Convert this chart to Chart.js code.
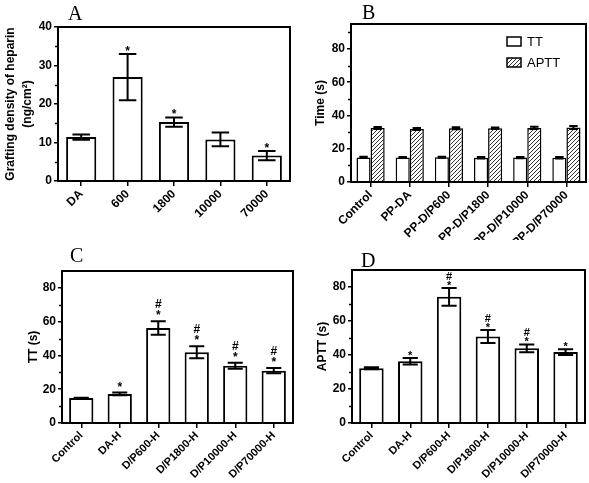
<!DOCTYPE html>
<html lang="en">
<head>
<meta charset="UTF-8">
<title>Heparin grafting density and clotting times</title>
<script src="https://cdn.jsdelivr.net/npm/chart.js"></script>
<style>
    body { margin: 0; background: #fff; width: 589px; height: 483px; position: relative; overflow: hidden; }
    .panel { position: absolute; }
    .letter { position: absolute; font-family: "Liberation Serif", "Times New Roman", serif; font-size: 20px; color: #000; line-height: 20px; }
</style>
</head>
<body>

<div class="panel" style="left:0;top:0;width:295px;height:240px"><canvas id="chartA"></canvas></div>
<div class="panel" style="left:295px;top:0;width:294px;height:240px"><canvas id="chartB"></canvas></div>
<div class="panel" style="left:0;top:240px;width:295px;height:243px"><canvas id="chartC"></canvas></div>
<div class="panel" style="left:295px;top:240px;width:294px;height:243px"><canvas id="chartD"></canvas></div>

<div class="letter" style="left:68px;top:3px">A</div>
<div class="letter" style="left:362px;top:2px">B</div>
<div class="letter" style="left:70px;top:245px">C</div>
<div class="letter" style="left:361px;top:250px">D</div>

<script>
    // A: grafting density
    const labelsA = ['DA', '600', '1800', '10000', '70000'];
    const densityA = [11.4, 27.0, 15.3, 10.8, 6.6];
    const densityErrA = [0.7, 6.0, 1.2, 1.8, 1.2];
    const marksA = ['', '*', '*', '', '*'];

    // B: TT / APTT of the unheparinized surfaces
    const labelsB = ['Control', 'PP-DA', 'PP-D/P600', 'PP-D/P1800', 'PP-D/P10000', 'PP-D/P70000'];
    const ttB = [14.8, 14.8, 14.9, 14.6, 14.7, 14.6];
    const ttErrB = [0.4, 0.3, 0.3, 0.4, 0.4, 0.4];
    const apttB = [32.4, 31.8, 32.3, 32.3, 32.5, 32.7];
    const apttErrB = [0.6, 0.6, 0.6, 0.5, 0.7, 0.9];

    // C / D: heparinized surfaces
    const labelsCD = ['Control', 'DA-H', 'D/P600-H', 'D/P1800-H', 'D/P10000-H', 'D/P70000-H'];
    const ttC = [14.8, 17.2, 56.2, 41.9, 33.9, 31.0];
    const ttErrC = [0.2, 0.8, 4.0, 3.5, 1.8, 1.6];
    const marksC = ['', '*', '#*', '#*', '#*', '#*'];
    const apttD = [32.2, 36.3, 74.2, 50.9, 43.9, 41.7];
    const apttErrD = [0.6, 1.9, 5.2, 3.8, 2.3, 1.7];
    const marksD = ['', '*', '#*', '#*', '#*', '*'];

    const fontFam = '"Liberation Sans", Arial, sans-serif';

    // hatch pattern for APTT bars
    function hatch() {
        const c = document.createElement('canvas');
        c.width = 4; c.height = 4;
        const g = c.getContext('2d');
        g.fillStyle = '#fff';
        g.fillRect(0, 0, 4, 4);
        g.strokeStyle = '#333';
        g.lineWidth = 1;
        g.beginPath();
        g.moveTo(0, 4); g.lineTo(4, 0);
        g.moveTo(-1, 1); g.lineTo(1, -1);
        g.moveTo(3, 5); g.lineTo(5, 3);
        g.stroke();
        return g.createPattern(c, 'repeat');
    }

    // error bars + significance marks, frame, minor ticks
    const extras = {
        id: 'extras',
        afterDatasetsDraw(chart, args, opts) {
            const ctx = chart.ctx;
            const y = chart.scales.y;
            const a = chart.chartArea;

            chart.data.datasets.forEach(function (ds, di) {
                const meta = chart.getDatasetMeta(di);
                meta.data.forEach(function (bar, i) {
                    const v = ds.data[i], e = ds.errors[i];
                    const top = y.getPixelForValue(v + e);
                    const bot = y.getPixelForValue(v - e);
                    const cap = bar.width * (opts.cap || 0.6) / 2;
                    ctx.save();
                    ctx.strokeStyle = '#000';
                    ctx.lineWidth = 2;
                    ctx.beginPath();
                    ctx.moveTo(bar.x, top); ctx.lineTo(bar.x, bot);
                    ctx.moveTo(bar.x - cap, top); ctx.lineTo(bar.x + cap, top);
                    ctx.moveTo(bar.x - cap, bot); ctx.lineTo(bar.x + cap, bot);
                    ctx.stroke();

                    const m = ds.marks ? ds.marks[i] : '';
                    ctx.fillStyle = '#000';
                    ctx.textAlign = 'center';
                    ctx.textBaseline = 'alphabetic';
                    ctx.font = 'bold ' + (opts.markSize || 12) + 'px ' + fontFam;
                    if (m.indexOf('*') >= 0) ctx.fillText('*', bar.x, top + opts.star);
                    if (m.indexOf('#') >= 0) ctx.fillText('#', bar.x, top + opts.hash);
                    ctx.restore();
                });
            });

            // frame
            ctx.save();
            ctx.strokeStyle = '#000';
            ctx.lineWidth = 2;
            ctx.strokeRect(a.left, a.top, a.right - a.left, a.bottom - a.top);

            // minor y ticks
            ctx.lineWidth = 1.5;
            const step = opts.step;
            ctx.beginPath();
            for (let v = step / 2; v < y.max; v += step) {
                const py = Math.round(y.getPixelForValue(v)) + 0.5;
                ctx.moveTo(a.left - 3, py);
                ctx.lineTo(a.left, py);
            }
            ctx.stroke();
            ctx.restore();
        }
    };

    // legend for panel B drawn inside the plot
    const insideLegend = {
        id: 'insideLegend',
        afterDraw(chart, args, opts) {
            if (!opts.show) return;
            const ctx = chart.ctx;
            chart.data.datasets.forEach(function (ds, i) {
                const bx = opts.x, by = opts.y + i * 21;
                ctx.save();
                ctx.fillStyle = ds.backgroundColor;
                ctx.fillRect(bx, by, 14, 9);
                ctx.strokeStyle = '#000';
                ctx.lineWidth = 1.5;
                ctx.strokeRect(bx, by, 14, 9);
                ctx.fillStyle = '#000';
                ctx.font = '13px ' + fontFam;
                ctx.textBaseline = 'middle';
                ctx.textAlign = 'left';
                ctx.fillText(ds.label, bx + 20, by + 5);
                ctx.restore();
            });
        }
    };

    function makeOptions(o) {
        return {
            responsive: true,
            maintainAspectRatio: false,
            animation: false,
            layout: {
                padding: { top: o.top, right: o.right, left: 0, bottom: 0 }
            },
            plugins: {
                legend: { display: false },
                tooltip: { enabled: false },
                extras: { step: o.step, star: o.star, hash: o.hash, cap: o.cap, markSize: o.markSize },
                insideLegend: o.legend || { show: false }
            },
            scales: {
                x: {
                    afterFit: function (s) { s.height = o.xh; },
                    grid: { display: true, drawOnChartArea: false, offset: false, color: '#000', lineWidth: 1.5, tickLength: 5 },
                    border: { display: true, color: '#000', width: 2 },
                    ticks: {
                        color: '#000',
                        maxRotation: 45,
                        minRotation: 45,
                        autoSkip: false,
                        padding: 1,
                        font: { size: o.xFont, weight: 'bold', family: fontFam }
                    }
                },
                y: {
                    min: 0,
                    max: o.max,
                    afterFit: function (s) { s.width = o.yw; },
                    grid: { display: true, drawOnChartArea: false, color: '#000', lineWidth: 1.5, tickLength: 4 },
                    border: { display: true, color: '#000', width: 2 },
                    ticks: {
                        stepSize: o.major,
                        includeBounds: false,
                        color: '#000',
                        padding: 2,
                        font: { size: 12, weight: 'bold', family: fontFam }
                    },
                    title: {
                        display: true,
                        text: o.title,
                        color: '#000',
                        padding: { top: o.titlePad, bottom: 0 },
                        font: { size: 12, weight: 'bold', family: fontFam, lineHeight: 1.35 }
                    }
                }
            }
        };
    }

    const GraficoA = new Chart(document.getElementById('chartA'), {
        type: 'bar',
        data: {
            labels: labelsA,
            datasets: [{
                label: 'Grafting density',
                data: densityA,
                errors: densityErrA,
                marks: marksA,
                backgroundColor: '#fff',
                borderColor: '#000',
                borderWidth: 2,
                categoryPercentage: 0.65,
                barPercentage: 1
            }]
        },
        options: makeOptions({
            top: 27, right: 5, xh: 59, yw: 58, max: 40, major: 10, step: 10,
            title: ['Grafting density of heparin', '(ng/cm²)'], titlePad: 3,
            xFont: 12, star: 1, hash: -10, cap: 0.58, markSize: 12
        }),
        plugins: [extras, insideLegend]
    });

    const pattern = hatch();

    const GraficoB = new Chart(document.getElementById('chartB'), {
        type: 'bar',
        data: {
            labels: labelsB,
            datasets: [
                {
                    label: 'TT',
                    data: ttB,
                    errors: ttErrB,
                    backgroundColor: '#fff',
                    borderColor: '#000',
                    borderWidth: 1.5,
                    categoryPercentage: 0.72,
                    barPercentage: 1
                },
                {
                    label: 'APTT',
                    data: apttB,
                    errors: apttErrB,
                    backgroundColor: pattern,
                    borderColor: '#000',
                    borderWidth: 1.5,
                    categoryPercentage: 0.72,
                    barPercentage: 1
                }
            ]
        },
        options: makeOptions({
            top: 24, right: 3, xh: 58, yw: 56, max: 95, major: 20, step: 20,
            title: 'Time (s)', titlePad: 18,
            xFont: 12, star: 1, hash: -10, cap: 0.6, markSize: 12,
            legend: { show: true, x: 212, y: 37 }
        }),
        plugins: [extras, insideLegend]
    });

    const GraficoC = new Chart(document.getElementById('chartC'), {
        type: 'bar',
        data: {
            labels: labelsCD,
            datasets: [{
                label: 'TT',
                data: ttC,
                errors: ttErrC,
                marks: marksC,
                backgroundColor: '#fff',
                borderColor: '#000',
                borderWidth: 2,
                categoryPercentage: 0.63,
                barPercentage: 1
            }]
        },
        options: makeOptions({
            top: 31, right: 2, xh: 60, yw: 62, max: 90, major: 20, step: 20,
            title: 'TT (s)', titlePad: 26,
            xFont: 11, star: -2, hash: -13, cap: 0.62, markSize: 12
        }),
        plugins: [extras, insideLegend]
    });

    const GraficoD = new Chart(document.getElementById('chartD'), {
        type: 'bar',
        data: {
            labels: labelsCD,
            datasets: [{
                label: 'APTT',
                data: apttD,
                errors: apttErrD,
                marks: marksD,
                backgroundColor: '#fff',
                borderColor: '#000',
                borderWidth: 2,
                categoryPercentage: 0.63,
                barPercentage: 1
            }]
        },
        options: makeOptions({
            top: 30, right: 4, xh: 60, yw: 57, max: 90, major: 20, step: 20,
            title: 'APTT (s)', titlePad: 20,
            xFont: 11, star: 1, hash: -8, cap: 0.62, markSize: 11
        }),
        plugins: [extras, insideLegend]
    });
</script>
</body>
</html>
